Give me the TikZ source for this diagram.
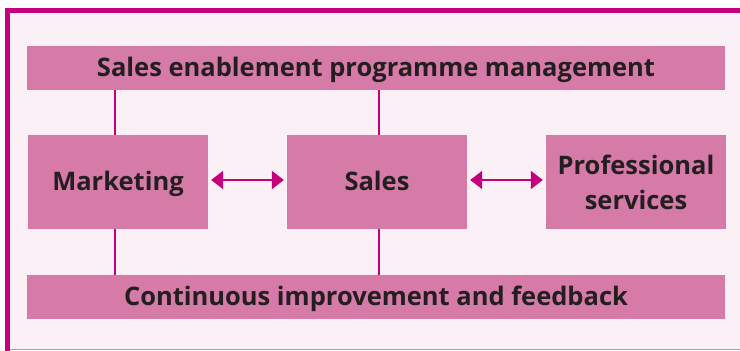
\documentclass[tikz,border=0pt]{standalone}
\usepackage{fontspec}
\setmainfont{Open Sans}
\usetikzlibrary{arrows.meta}
\definecolor{frame}{RGB}{196,0,126}
\definecolor{boxfill}{RGB}{214,122,168}
\definecolor{bg}{RGB}{251,240,246}
\definecolor{txt}{RGB}{35,31,32}
\definecolor{lightline}{RGB}{226,130,184}
\begin{document}
\begin{tikzpicture}[x=1pt,y=1pt,
  basebox/.style={fill=boxfill, draw=none, inner sep=0pt, align=center,
    text=txt, font=\fontsize{25.5}{35}\selectfont\bfseries},
  pbox/.style={basebox, text height=17.5pt, text depth=0pt},
  link/.style={draw=frame, line width=2.2pt},
  dblarrow/.style={draw=frame, line width=2.2pt, {Triangle[length=12pt,width=18pt]}-{Triangle[length=12pt,width=18pt]}, shorten <=3pt, shorten >=3pt}]
\useasboundingbox (0,0) rectangle (740,-351);
\fill[white] (0,0) rectangle (740,-351);
\fill[bg] (10,-13) rectangle (740,-349);
\draw[frame, line width=5pt] (7.5,-351) -- (7.5,-10.5) -- (740,-10.5);
\draw[lightline, line width=1.2pt] (10,-349.4) -- (740,-349.4);
% boxes
\node[pbox, minimum width=698pt, minimum height=44pt] (top) at (376,-68) {Sales enablement programme management};
\node[pbox, minimum width=698pt, minimum height=44pt] (bot) at (376,-297) {Continuous improvement and feedback};
\node[pbox, minimum width=180pt, minimum height=94pt] (mkt) at (118,-182) {Marketing};
\node[pbox, minimum width=180pt, minimum height=94pt] (sales) at (377,-182) {Sales};
\node[basebox, minimum width=180pt, minimum height=94pt] (prof) at (636,-182) {Professional\\services};
% links
\draw[link] (mkt.north -| 115,0) -- (top.south -| 115,0);
\draw[link] (mkt.south -| 115,0) -- (bot.north -| 115,0);
\draw[link] (sales.north -| 379,0) -- (top.south -| 379,0);
\draw[link] (sales.south -| 379,0) -- (bot.north -| 379,0);
\draw[dblarrow] (mkt.east |- 0,-180) -- (sales.west |- 0,-180);
\draw[dblarrow] (sales.east |- 0,-180) -- (prof.west |- 0,-180);
\end{tikzpicture}
\end{document}
